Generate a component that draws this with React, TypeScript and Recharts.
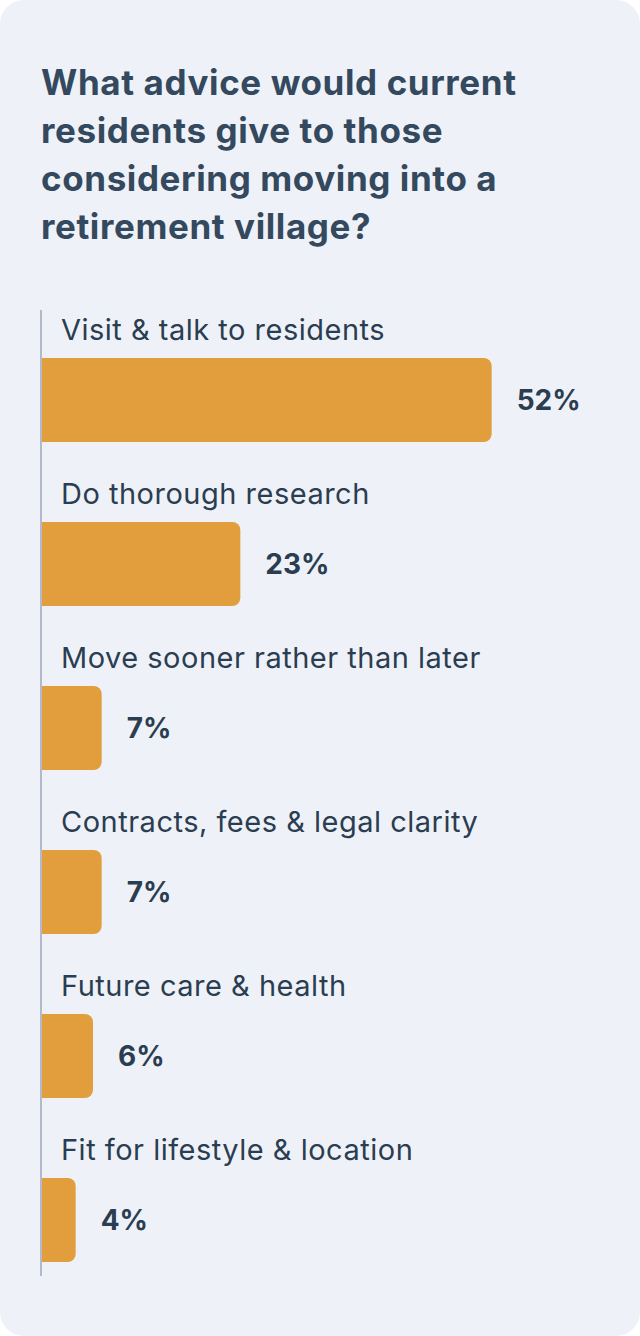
import React from 'react';
import { BarChart, Bar, XAxis, YAxis, LabelList } from 'recharts';

const titleLines = [
  'What advice would current',
  'residents give to those',
  'considering moving into a',
  'retirement village?',
];
const categories = [
  'Visit & talk to residents',
  'Do thorough research',
  'Move sooner rather than later',
  'Contracts, fees & legal clarity',
  'Future care & health',
  'Fit for lifestyle & location',
];
const shares = [52, 23, 7, 7, 6, 4];

const data = categories.map((name, i) => ({ name, value: shares[i] }));

const ink = '#2b3d50';
const font = 'Inter, "Noto Sans", sans-serif';

function CategoryTick(props: any) {
  const { x, y, payload } = props;
  return (
    <text
      x={x + 20}
      y={y - 60}
      fill={ink}
      fontSize={29}
      letterSpacing={0.5}
      fontFamily={font}
      textAnchor="start"
    >
      {payload.value}
    </text>
  );
}

export default function App() {
  return (
    <div style={{ width: 640, height: 1336, position: 'relative', background: '#ffffff' }}>
      <style>{'body{margin:0}'}</style>
      <div
        style={{
          position: 'absolute',
          inset: 0,
          background: '#eef2f8',
          borderRadius: 24,
        }}
      />
      <div
        style={{
          position: 'absolute',
          left: 41,
          top: 58,
          fontFamily: font,
          fontWeight: 700,
          fontSize: 35,
          letterSpacing: 0.6,
          lineHeight: '48px',
          color: '#34495e',
          whiteSpace: 'nowrap',
        }}
      >
        {titleLines.map(l => (
          <div key={l}>{l}</div>
        ))}
      </div>
      <div style={{ position: 'absolute', left: 0, top: 0 }}>
        <BarChart
          width={640}
          height={1336}
          data={data}
          layout="vertical"
          margin={{ top: 310, right: 79, bottom: 60, left: 40 }}
          barCategoryGap={0}
        >
          <XAxis type="number" domain={[0, 60]} hide />
          <YAxis
            type="category"
            dataKey="name"
            width={1}
            tickLine={false}
            tickSize={0}
            tickMargin={0}
            axisLine={{ stroke: '#b3b8cb', strokeWidth: 2 }}
            padding={{ top: 8, bottom: -26 }}
            tick={<CategoryTick />}
            interval={0}
          />
          <Bar dataKey="value" fill="#e29e3c" barSize={84} radius={[0, 8, 8, 0]} isAnimationActive={false}>
            <LabelList
              dataKey="value"
              position="right"
              offset={25}
              formatter={(v: any) => `${v}%`}
              fill={ink}
              fontSize={28}
              fontWeight={700}
              fontFamily={font}
            />
          </Bar>
        </BarChart>
      </div>
    </div>
  );
}
